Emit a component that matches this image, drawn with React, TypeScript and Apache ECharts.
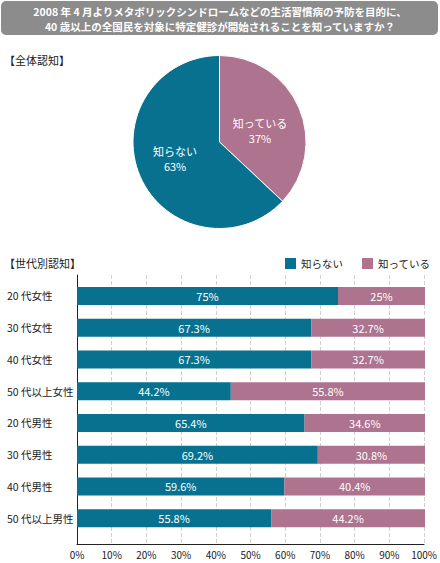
import React, { useEffect, useRef } from "react";
import * as echarts from "echarts";

const titleLines = [
  "2008 年 4 月よりメタボリックシンドロームなどの生活習慣病の予防を目的に、",
  "40 歳以上の全国民を対象に特定健診が開始されることを知っていますか？",
];
const sectionLabels = ["【全体認知】", "【世代別認知】"];
const seriesNames = ["知らない", "知っている"];
const pieValues = [63, 37]; // 知らない, 知っている
const categories = [
  "20 代女性",
  "30 代女性",
  "40 代女性",
  "50 代以上女性",
  "20 代男性",
  "30 代男性",
  "40 代男性",
  "50 代以上男性",
];
const notKnow = [75, 67.3, 67.3, 44.2, 65.4, 69.2, 59.6, 55.8];
const know = [25, 32.7, 32.7, 55.8, 34.6, 30.8, 40.4, 44.2];

const TEAL = "#07718f";
const PINK = "#ae738e";
const FONT = "'Noto Sans CJK JP', 'Noto Sans', sans-serif";

export default function App() {
  const ref = useRef<HTMLDivElement>(null);
  useEffect(() => {
    document.body.style.margin = "0";
    const chart = echarts.init(ref.current!, null, { renderer: "svg" });
    chart.setOption({
      animation: false,
      textStyle: { fontFamily: FONT },
      graphic: [
        {
          type: "rect",
          shape: { x: 1, y: 1, width: 437, height: 34, r: 5 },
          style: { fill: "#8c8c8c" },
        },
        {
          type: "text",
          x: 220,
          y: 11.5,
          style: {
            text: titleLines[0],
            fontSize: 10.5,
            fontFamily: FONT,
            fontWeight: "bold",
            fill: "#fff",
            align: "center",
            verticalAlign: "middle",
          },
        },
        {
          type: "text",
          x: 220,
          y: 26.5,
          style: {
            text: titleLines[1],
            fontSize: 10.5,
            fontFamily: FONT,
            fontWeight: "bold",
            fill: "#fff",
            align: "center",
            verticalAlign: "middle",
          },
        },
        {
          type: "text",
          x: 4,
          y: 60,
          style: {
            text: sectionLabels[0],
            fontSize: 11,
            fontFamily: FONT,
            fill: "#222",
            verticalAlign: "middle",
          },
        },
        {
          type: "text",
          x: 4,
          y: 263,
          style: {
            text: sectionLabels[1],
            fontSize: 11,
            fontFamily: FONT,
            fill: "#222",
            verticalAlign: "middle",
          },
        },
      ],
      legend: {
        data: seriesNames,
        orient: "horizontal",
        left: 285,
        top: 258,
        width: 155,
        icon: "rect",
        itemWidth: 11,
        itemHeight: 11,
        itemGap: 19,
        padding: 0,
        textStyle: { fontSize: 10.5, color: "#222", fontFamily: FONT },
        selectedMode: false,
      },
      grid: [
        { left: 77, right: 15, top: 275, bottom: 19 },
        { left: 77, right: 15, top: 280, height: 254 },
      ],
      xAxis: [
        {
          gridIndex: 0,
          type: "value",
          min: 0,
          max: 100,
          interval: 10,
          axisLine: { show: true, lineStyle: { color: "#222", width: 1 } },
          axisTick: { show: false },
          axisLabel: {
            formatter: "{value}%",
            fontSize: 10,
            color: "#222",
            margin: 5,
          },
          splitLine: {
            show: true,
            lineStyle: { color: "#d0d0d0", type: "dashed", width: 1 },
          },
        },
        {
          gridIndex: 1,
          type: "value",
          min: 0,
          max: 100,
          show: false,
        },
      ],
      yAxis: [
        {
          gridIndex: 0,
          type: "value",
          min: 0,
          max: 1,
          axisLine: { show: true, lineStyle: { color: "#222", width: 1 } },
          axisTick: { show: false },
          axisLabel: { show: false },
          splitLine: { show: false },
        },
        {
          gridIndex: 1,
          type: "category",
          data: categories,
          inverse: true,
          axisLine: { show: false },
          axisTick: { show: false },
          axisLabel: {
            align: "left",
            margin: 70,
            fontSize: 10.5,
            color: "#222",
            fontFamily: FONT,
          },
        },
      ],
      series: [
        {
          type: "pie",
          center: [219.5, 142],
          radius: 86.5,
          startAngle: 90,
          clockwise: true,
          label: {
            position: "inside",
            formatter: "{b}\n{c}%",
            color: "#fff",
            fontSize: 11,
            lineHeight: 15,
            fontFamily: FONT,
          },
          labelLine: { show: false },
          itemStyle: { borderColor: "#fff", borderWidth: 1 },
          emphasis: { disabled: true },
          data: [
            {
              name: seriesNames[1],
              value: pieValues[1],
              itemStyle: { color: PINK },
              label: { offset: [-2, 7] },
            },
            {
              name: seriesNames[0],
              value: pieValues[0],
              itemStyle: { color: TEAL },
              label: { offset: [-2, -2] },
            },
          ],
        },
        {
          name: seriesNames[0],
          type: "bar",
          stack: "t",
          xAxisIndex: 1,
          yAxisIndex: 1,
          barWidth: 18,
          itemStyle: { color: TEAL },
          label: {
            show: true,
            position: "inside",
            formatter: "{c}%",
            color: "#fff",
            fontSize: 11,
            fontFamily: FONT,
          },
          data: notKnow,
        },
        {
          name: seriesNames[1],
          type: "bar",
          stack: "t",
          xAxisIndex: 1,
          yAxisIndex: 1,
          barWidth: 18,
          itemStyle: { color: PINK },
          label: {
            show: true,
            position: "inside",
            formatter: "{c}%",
            color: "#fff",
            fontSize: 11,
            fontFamily: FONT,
          },
          data: know,
        },
      ],
    });
    return () => chart.dispose();
  }, []);
  return <div ref={ref} style={{ width: 440, height: 563 }} />;
}
